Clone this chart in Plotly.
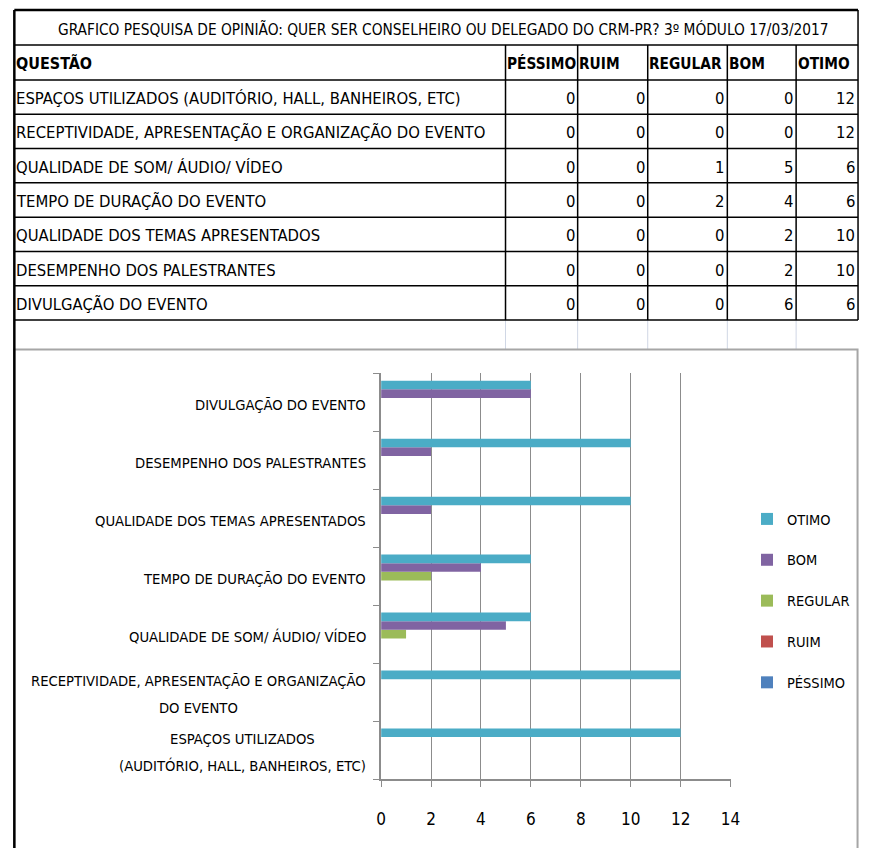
import plotly.graph_objects as go

W, H = 870, 848

# ---------------- data ----------------
title_text = "GRAFICO PESQUISA DE OPINIÃO: QUER SER CONSELHEIRO OU DELEGADO DO CRM-PR? 3º MÓDULO 17/03/2017"
first_header = "QUESTÃO"
series_names = ["PÉSSIMO", "RUIM", "REGULAR", "BOM", "OTIMO"]
questions = [
    "ESPAÇOS UTILIZADOS (AUDITÓRIO, HALL, BANHEIROS, ETC)",
    "RECEPTIVIDADE, APRESENTAÇÃO E ORGANIZAÇÃO DO EVENTO",
    "QUALIDADE DE SOM/ ÁUDIO/ VÍDEO",
    "TEMPO DE DURAÇÃO DO EVENTO",
    "QUALIDADE DOS TEMAS APRESENTADOS",
    "DESEMPENHO DOS PALESTRANTES",
    "DIVULGAÇÃO DO EVENTO",
]
chart_labels = [
    ["ESPAÇOS UTILIZADOS", "(AUDITÓRIO, HALL, BANHEIROS, ETC)"],
    ["RECEPTIVIDADE, APRESENTAÇÃO E ORGANIZAÇÃO", "DO EVENTO"],
    ["QUALIDADE DE SOM/ ÁUDIO/ VÍDEO"],
    ["TEMPO DE DURAÇÃO DO EVENTO"],
    ["QUALIDADE DOS TEMAS APRESENTADOS"],
    ["DESEMPENHO DOS PALESTRANTES"],
    ["DIVULGAÇÃO DO EVENTO"],
]
pessimo = [0, 0, 0, 0, 0, 0, 0]
ruim = [0, 0, 0, 0, 0, 0, 0]
regular = [0, 0, 1, 2, 0, 0, 0]
bom = [0, 0, 5, 4, 2, 2, 6]
otimo = [12, 12, 6, 6, 10, 10, 6]
x_ticks = [0, 2, 4, 6, 8, 10, 12, 14]

series_values = [pessimo, ruim, regular, bom, otimo]
series_colors = ["#4F81BD", "#C0504D", "#9BBB59", "#8064A2", "#4BACC6"]

# ---------------- geometry helpers (pixels -> paper) ----------------
def px(x):
    return x / W

def py(y):
    return 1 - y / H

FONT = "Liberation Sans Narrow, DejaVu Sans Condensed, Arial Narrow, Liberation Sans, sans-serif"

fig = go.Figure()

n = len(series_names)
for k, (name, vals, col) in enumerate(zip(series_names, series_values, series_colors)):
    fig.add_trace(go.Bar(
        y=questions, x=vals, name=name, orientation="h",
        marker=dict(color=col, line=dict(width=0)),
        legendgroup=name, legendrank=n - k,
    ))

# plot area in pixels
AX_L, AX_R, AX_T, AX_B = 382.7, 738.3, 373.3, 779.0

shapes = []
annotations = []

def hline(y, x0, x1, color="black", width=1.5):
    shapes.append(dict(type="line", xref="paper", yref="paper",
                       x0=px(x0), x1=px(x1), y0=py(y), y1=py(y),
                       line=dict(color=color, width=width)))

def vline(x, y0, y1, color="black", width=1.5):
    shapes.append(dict(type="line", xref="paper", yref="paper",
                       x0=px(x), x1=px(x), y0=py(y0), y1=py(y1),
                       line=dict(color=color, width=width)))

def text(x, y, s, size=16.5, anchor="left", bold=False):
    if bold:
        s = "<b>" + s + "</b>"
    annotations.append(dict(xref="paper", yref="paper", x=px(x), y=py(y),
                            text=s, showarrow=False, xanchor=anchor,
                            yanchor="middle", borderpad=0, borderwidth=0,
                            font=dict(family=FONT, size=size, color="black")))

# table geometry
T_L, T_R, T_TOP = 9.5, 868.0, 10.0
title_bottom = 45.0
header_bottom = 80.0
row_h = (320.0 - 80.0) / 7
col_lines = [509.3, 582.7, 654.0, 735.0, 805.0]
col_rights = col_lines[1:] + [T_R]

# faint excel gridlines in the empty row
for cx in col_lines:
    vline(cx, 320, 349, color="#D0D7E5", width=1)

# chart frame
shapes.append(dict(type="rect", xref="paper", yref="paper",
                   x0=px(T_L), x1=px(867.5), y0=py(349.5), y1=py(H + 5),
                   line=dict(color="#A6A6A6", width=2)))

# table lines
hline(T_TOP, T_L, T_R, width=2.5)
hline(title_bottom, T_L, T_R)
hline(header_bottom, T_L, T_R)
for i in range(1, 8):
    hline(header_bottom + i * row_h, T_L, T_R)
for cx in col_lines:
    vline(cx, title_bottom, 320)
vline(T_R, T_TOP, 320, width=1.5)
vline(T_L, T_TOP, H, width=2.5)

# table texts
text(446, 30, title_text, size=15.3, anchor="center")
text(11.5, 64, first_header, size=16, bold=True)
for cx, nm in zip(col_lines, series_names):
    text(cx + 1.5, 64, nm, size=15.3, bold=True)
for i, q in enumerate(questions):
    yc = header_bottom + (i + 0.5) * row_h + 1.5
    text(11.5, yc, q, size=16.5)
    for j, vals in enumerate(series_values):
        text(col_rights[j] - 3, yc, str(vals[i]), size=16.5, anchor="right")

# chart category labels (centered multi-line, right edge near axis)
for q, lines in zip(questions, chart_labels):
    body = "<br>".join('<span style="font-size:14.7px">' + ln + "</span>" for ln in lines)
    annotations.append(dict(xref="paper", yref="y", x=px(367), y=q,
                            text=body, showarrow=False, xanchor="right",
                            yanchor="middle", align="center", yshift=-2,
                            borderpad=0, borderwidth=0,
                            font=dict(family=FONT, size=20.8, color="black")))

GRID = "#8C8C8C"
fig.update_layout(
    width=W, height=H, autosize=False,
    margin=dict(l=0, r=0, t=0, b=0),
    paper_bgcolor="white", plot_bgcolor="white",
    barmode="group", bargap=0.257, bargroupgap=0,
    font=dict(family=FONT, color="black"),
    xaxis=dict(domain=[px(AX_L), px(AX_R)], range=[0, 14], tickvals=x_ticks,
               showgrid=True, gridcolor=GRID, gridwidth=1,
               showline=True, linecolor=GRID, linewidth=1.5,
               ticks="outside", ticklen=6, tickcolor=GRID,
               zeroline=False, tickfont=dict(size=17, color="black"),
               ticklabelstandoff=18, fixedrange=True),
    yaxis=dict(domain=[py(AX_B), py(AX_T)], type="category",
               showticklabels=False, showgrid=False,
               showline=True, linecolor=GRID, linewidth=1.5,
               ticks="outside", ticklen=6, tickcolor=GRID, tickson="boundaries",
               fixedrange=True),
    legend=dict(x=px(755), y=py(601), xanchor="left", yanchor="middle",
                traceorder="grouped", tracegroupgap=19,
                font=dict(size=14.5, color="black"),
                bgcolor="rgba(0,0,0,0)"),
    shapes=shapes,
    annotations=annotations,
)

fig.write_html("out.html", config={"displayModeBar": False},
               post_script="document.body.style.margin='0';document.body.style.overflow='hidden';")
